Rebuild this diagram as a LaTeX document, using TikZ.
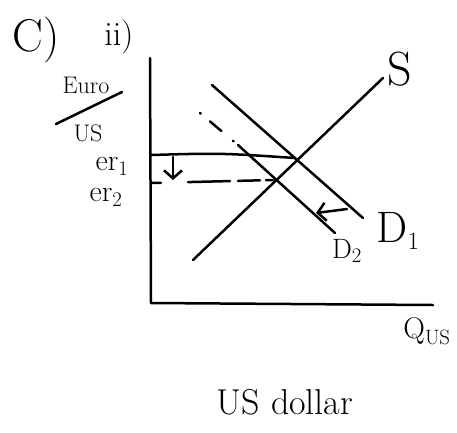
\documentclass[tikz,border=0pt]{standalone}
\usetikzlibrary{arrows.meta}
\begin{document}
\begin{tikzpicture}[x=1pt,y=-1pt,
  ink/.style={line width=2.5pt,line cap=round,line join=round,black},
  lbl/.style={font=\fontsize{30}{32}\selectfont,inner sep=0pt},
  arr/.style={ink,-{Straight Barb[length=8pt,width=18pt,line width=2.5pt]}}]
\useasboundingbox (0,0) rectangle (457,432);
% axes
\coordinate (ytop) at (150,58);
\coordinate (origin) at (151,303);
\coordinate (xend) at (433,305);
\draw[ink] (ytop) -- (origin) -- (xend);
% supply
\coordinate (s1) at (193,260);
\coordinate (s2) at (383,78);
\draw[ink] (s1) -- (s2);
% demand 1
\coordinate (d1a) at (212,85);
\coordinate (d1b) at (363,218);
\draw[ink] (d1a) -- (d1b);
% demand 2
\coordinate (d2a) at (200,113);
\coordinate (d2m) at (238,145);
\coordinate (d2b) at (335,233);
\draw[ink,dash pattern=on 1pt off 12pt on 15pt off 15pt] (d2a) -- (d2m);
\draw[ink] (d2m) -- (d2b);
% exchange rate lines
\coordinate (er1a) at (151,155);
\coordinate (e1) at (295,158);
\draw[ink] (er1a) .. controls (220,153) .. (e1);
\coordinate (er2a) at (151,183);
\coordinate (e2) at (273,180);
\draw[ink,dash pattern=on 10pt off 27pt on 42pt off 8pt on 22pt off 6pt on 10pt off 20pt] (er2a) -- (e2);
% arrows
\coordinate (da) at (173,157);
\coordinate (db) at (173,180);
\draw[arr] (da) -- (db);
\coordinate (la) at (347,209);
\coordinate (lb) at (316,213);
\draw[arr] (la) -- (lb);
% labels
\node[font=\fontsize{46}{48}\selectfont,inner sep=0pt] (c) at (36,40) {C)};
\node[font=\fontsize{34}{36}\selectfont,inner sep=0pt] (ii) at (119,37) {ii)};
\node[font=\fontsize{24}{26}\selectfont,inner sep=0pt] (euro) at (86,85) {Euro};
\node[font=\fontsize{24}{26}\selectfont,inner sep=0pt] (us) at (88,133) {US};
\coordinate (fa) at (56,124);
\coordinate (fb) at (122,92);
\draw[ink] (fa) -- (fb);
\node[lbl] (er1) at (112,166) {er$_1$};
\node[lbl] (er2) at (106,197) {er$_2$};
\node[font=\fontsize{48}{50}\selectfont,inner sep=0pt] (S) at (400,69) {S};
\node[font=\fontsize{44}{46}\selectfont,inner sep=0pt] (D1) at (398,231) {D$_1$};
\node[font=\fontsize{28}{30}\selectfont,inner sep=0pt] (D2) at (347,251) {D$_2$};
\node[font=\fontsize{30}{32}\selectfont,inner sep=0pt] (Q) at (427,331) {Q$_{\mathrm{US}}$};
\node[font=\fontsize{36}{38}\selectfont,inner sep=0pt] (usd) at (285,402) {US dollar};
\end{tikzpicture}
\end{document}
